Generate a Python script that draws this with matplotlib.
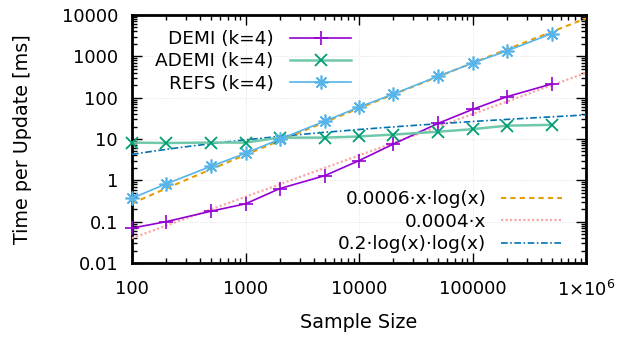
import numpy as np
import matplotlib
matplotlib.use('Agg')
import matplotlib.pyplot as plt
from matplotlib.ticker import FixedLocator, FixedFormatter, LogLocator, NullFormatter

# Datos
sizes = [100, 200, 500, 1000, 2000, 5000, 10000, 20000, 50000, 100000, 200000, 500000]
demi = [0.07, 0.1, 0.18, 0.27, 0.63, 1.3, 3.0, 7.5, 24, 52, 105, 215]
ademi = [8.2, 8.0, 8.2, 8.2, 10.8, 10.8, 11.5, 12.8, 15, 17.3, 21, 22]
refs = [0.37, 0.82, 2.2, 4.5, 9.9, 27, 59, 122, 330, 685, 1350, 3550]

# Coeficientes de las curvas de ajuste
c_xlogx = 0.0006
c_x = 0.0004
c_loglog = 0.2

xticks = [100, 1000, 10000, 100000, 1000000]
xtick_labels = ['100', '1000', '10000', '100000', r'1×10$^{6}$']
yticks = [0.01, 0.1, 1, 10, 100, 1000, 10000]
ytick_labels = ['0.01', '0.1', '1', '10', '100', '1000', '10000']

fs_tick = 13
fs_leg = 13.3
fs_lab = 13.8
plt.rcParams['font.family'] = ['DejaVu Sans']
plt.rcParams['mathtext.fontset'] = 'dejavusans'

fig = plt.figure(figsize=(6.43, 3.38), dpi=100)
ax = fig.add_axes([132/643, 75/338, 454/643, 248/338])

ax.set_xscale('log')
ax.set_yscale('log')
ax.set_xlim(100, 1e6)
ax.set_ylim(0.01, 10000)

#Series medidas
l1, = ax.plot(sizes, demi, color='#9400d3', lw=1.2, marker='+', ms=10, mew=1.2,
              clip_on=False, zorder=5, label='DEMI (k=4)')
l2, = ax.plot(sizes, ademi, color='#70c8aa', lw=1.8, marker='x', ms=9, mew=1.3,
              mec='#009e73', clip_on=False, zorder=5, label='ADEMI (k=4)')
l3, = ax.plot(sizes, refs, color='#56b4e9', lw=1.2, marker=(8, 2, 0), ms=10, mew=1.2,
              clip_on=False, zorder=5, label='REFS (k=4)')

#Curvas de ajuste
xs = np.logspace(2, 6, 300)
f1, = ax.plot(xs, c_xlogx * xs * np.log(xs), color='#e69f00', lw=1.5,
              ls=(0, (2.5, 2)), zorder=4, label='0.0006·x·log(x)')
f2, = ax.plot(xs, c_x * xs, color='#f8a8a8', lw=1.6,
              ls=(0, (1, 1)), zorder=3, label='0.0004·x')
f3, = ax.plot(xs, c_loglog * np.log(xs) ** 2, color='#0072b2', lw=1.2,
              ls=(0, (4, 1.5, 1, 1.5)), zorder=3, label='0.2·log(x)·log(x)')

#Ejes y ticks
ax.xaxis.set_major_locator(FixedLocator(xticks))
ax.xaxis.set_major_formatter(FixedFormatter(xtick_labels))
ax.xaxis.set_minor_locator(LogLocator(base=10, subs=np.arange(2, 10)))
ax.xaxis.set_minor_formatter(NullFormatter())
ax.yaxis.set_major_locator(FixedLocator(yticks))
ax.yaxis.set_major_formatter(FixedFormatter(ytick_labels))
ax.yaxis.set_minor_locator(LogLocator(base=10, subs=np.arange(2, 10)))
ax.yaxis.set_minor_formatter(NullFormatter())

ax.tick_params(which='both', direction='in', top=True, right=True, width=1.0, colors='black')
ax.tick_params(which='major', length=7)
ax.tick_params(which='minor', length=3.5)
ax.tick_params(axis='x', which='major', pad=12, labelsize=fs_tick)
ax.tick_params(axis='y', which='major', pad=10, labelsize=fs_tick)
for sp in ax.spines.values():
    sp.set_linewidth(2)

ax.grid(True, which='major', color='#d8d8d8', lw=0.6, ls=(0, (1, 2)))

ax.set_xlabel('Sample Size', fontsize=fs_lab)
ax.set_ylabel('Time per Update [ms]', fontsize=fs_lab)
ax.xaxis.set_label_coords(359/643, 25/338, transform=fig.transFigure)
ax.yaxis.set_label_coords(32/643, 199/338, transform=fig.transFigure)

#Leyendas
leg1 = ax.legend(handles=[l1, l2, l3], loc='upper right', markerfirst=False,
                 frameon=False, fontsize=fs_leg, handlelength=3.3, handletextpad=0.9,
                 labelspacing=0.24, borderpad=0, borderaxespad=0,
                 bbox_to_anchor=(351/643, 1 - 30/338), bbox_transform=fig.transFigure)
ax.add_artist(leg1)
ax.legend(handles=[f1, f2, f3], loc='lower right', markerfirst=False,
          frameon=False, fontsize=fs_leg, handlelength=3.3, handletextpad=0.8,
          labelspacing=0.24, borderpad=0, borderaxespad=0,
          bbox_to_anchor=(562/643, 1 - 253/338), bbox_transform=fig.transFigure)

fig.savefig('out.png', dpi=100)
